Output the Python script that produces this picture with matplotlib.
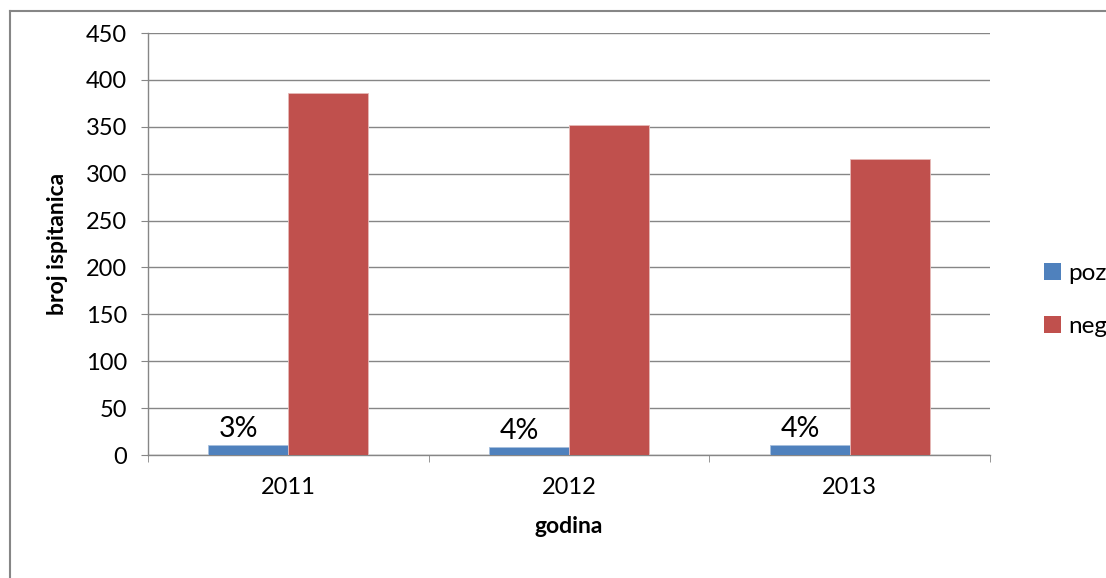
import matplotlib
matplotlib.use("Agg")
import matplotlib.pyplot as plt
from matplotlib.lines import Line2D
from matplotlib.patches import Patch
import numpy as np

plt.rcParams['font.family'] = ['Lato', 'DejaVu Sans']

# data
years = ['2011', '2012', '2013']
poz = [11, 9, 11]
neg = [386, 352, 316]
pct_labels = ['3%', '4%', '4%']

BLUE = '#4F81BD'
RED = '#C0504D'
GRID = '#868686'

fig = plt.figure(figsize=(11.06, 5.78), dpi=100)
ax = fig.add_axes([148 / 1106, 1 - 455 / 578, (990 - 148) / 1106, (455 - 33) / 578])

x = np.arange(len(years))
w = 0.285
ax.bar(x - w / 2, poz, w, color=BLUE, edgecolor='#A7BFDE', linewidth=0.6, zorder=3)
ax.bar(x + w / 2, neg, w, color=RED, edgecolor='#E6B9B8', linewidth=0.6, zorder=3)

for xi, v, lab in zip(x, poz, pct_labels):
    ax.annotate(lab, (xi - w / 2, v), xytext=(-7, 2), textcoords='offset points',
                ha='center', va='bottom', fontsize=20.5)

ax.set_xlim(-0.5, len(years) - 0.5)
ax.set_ylim(0, 450)
ax.set_yticks(range(0, 451, 50))
ax.set_xticks(x)
ax.set_xticklabels(years)
ax.set_xticks(np.arange(-0.5, len(years), 1), minor=True)

ax.grid(axis='y', color=GRID, linewidth=1.0, zorder=0)
ax.set_axisbelow(True)
for s in ['top', 'right']:
    ax.spines[s].set_visible(False)
for s in ['left', 'bottom']:
    ax.spines[s].set_color(GRID)
    ax.spines[s].set_linewidth(1.0)

ax.tick_params(axis='y', length=5, color=GRID, labelsize=17, pad=10)
ax.tick_params(axis='x', which='major', length=0, labelsize=17, pad=16)
ax.tick_params(axis='x', which='minor', length=5, color=GRID)

ax.set_ylabel('broj ispitanica', fontsize=16.5, fontweight='bold', labelpad=13)
ax.set_xlabel('godina', fontsize=16.5, fontweight='bold', labelpad=13)

handles = [Patch(facecolor=BLUE, label='poz'), Patch(facecolor=RED, label='neg')]
fig.legend(handles=handles, loc='center left', bbox_to_anchor=(1022 / 1106, 1 - 300 / 578),
           frameon=False, fontsize=17.5, handlelength=0.7, handleheight=0.7,
           handletextpad=0.3, labelspacing=1.3)

# outer chart border (left and top visible only)
fig.add_artist(Line2D([10 / 1106, 10 / 1106], [0, 1 - 11 / 578], transform=fig.transFigure,
                      color=GRID, linewidth=1.5))
fig.add_artist(Line2D([10 / 1106, 1], [1 - 11 / 578, 1 - 11 / 578], transform=fig.transFigure,
                      color=GRID, linewidth=1.5))

fig.savefig('out.png', dpi=100)
